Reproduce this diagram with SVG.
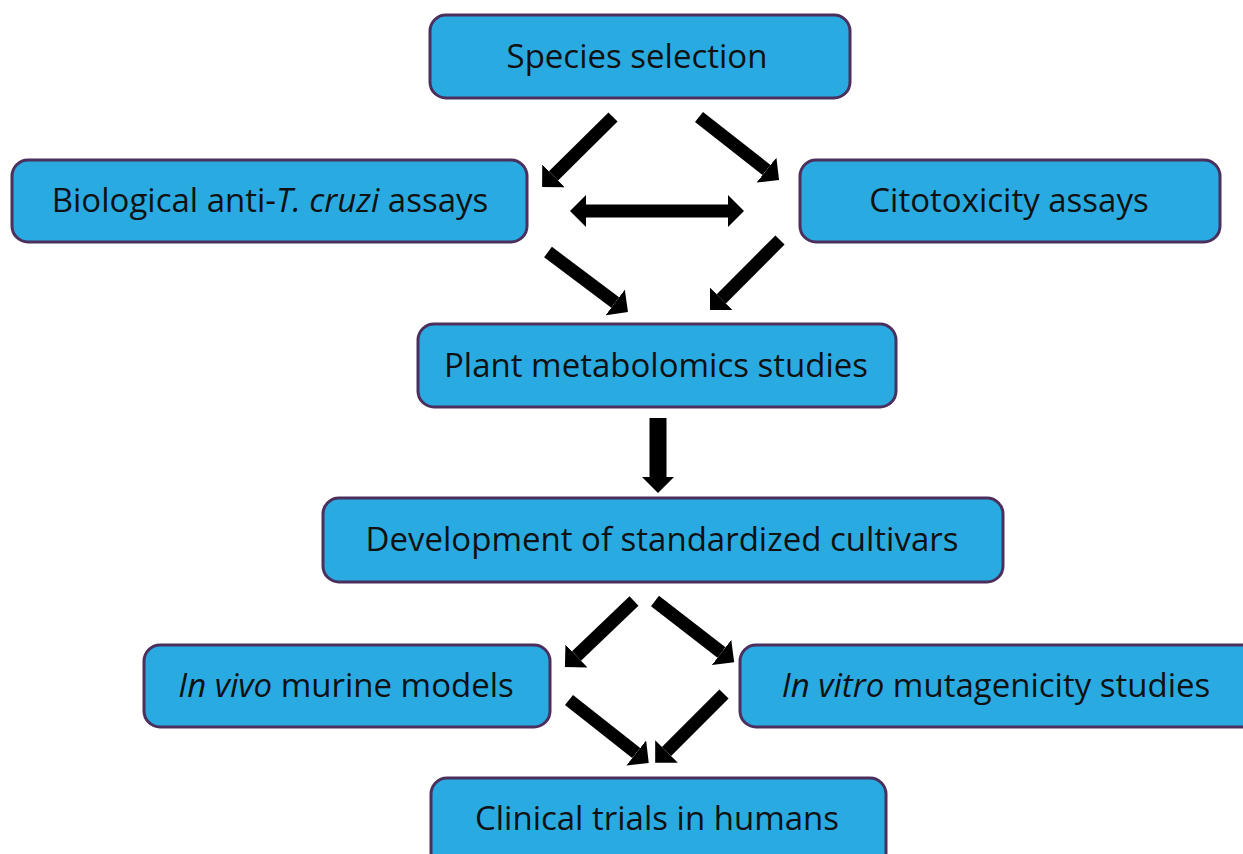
<svg xmlns="http://www.w3.org/2000/svg" width="1243" height="854" viewBox="0 0 1243 854">
<style>
.box{fill:#29ABE2;stroke:#4B2F5C;stroke-width:3}
.t{font-family:"Open Sans","Liberation Sans",sans-serif;font-size:33px;fill:#111;text-anchor:middle}
.i{font-style:italic}
.a{stroke:#000;stroke-width:13;fill:none;marker-end:url(#h)}
</style>
<defs>
<marker id="h" markerUnits="userSpaceOnUse" viewBox="0 0 16 32" markerWidth="16" markerHeight="32" refX="0" refY="16" orient="auto-start-reverse">
<path d="M0,0 L16,16 L0,32 z" fill="#000"/>
</marker>
</defs>
<rect width="1243" height="854" fill="#fff"/>
<g id="connectors">
<line class="a" x1="613" y1="117" x2="553.5" y2="175.8"/>
<line class="a" x1="699" y1="117" x2="766.5" y2="170"/>
<line class="a" x1="586" y1="211" x2="728" y2="211" style="marker-start:url(#h)"/>
<line class="a" x1="548" y1="252" x2="615.2" y2="302.5"/>
<line class="a" x1="780" y1="240" x2="721.3" y2="298.8"/>
<line class="a" x1="658" y1="418" x2="658" y2="477" style="stroke-width:17"/>
<line class="a" x1="634" y1="601" x2="576.5" y2="656"/>
<line class="a" x1="655" y1="601" x2="721.5" y2="652.5"/>
<line class="a" x1="569" y1="700" x2="636.2" y2="753"/>
<line class="a" x1="724" y1="694" x2="666.5" y2="751.5"/>
</g>
<g id="n1"><rect class="box" x="430" y="15" width="420" height="83" rx="16"/><text class="t" x="637" y="68">Species selection</text></g>
<g id="n2"><rect class="box" x="12" y="160" width="515" height="82" rx="16"/><text class="t" x="270" y="212">Biological anti-<tspan class="i">T. cruzi</tspan> assays</text></g>
<g id="n3"><rect class="box" x="800" y="160" width="420" height="82" rx="16"/><text class="t" x="1009" y="212">Citotoxicity assays</text></g>
<g id="n4"><rect class="box" x="418" y="324" width="478" height="83" rx="16"/><text class="t" x="656" y="377">Plant metabolomics studies</text></g>
<g id="n5"><rect class="box" x="323" y="498" width="680" height="84" rx="16"/><text class="t" x="662" y="551">Development of standardized cultivars</text></g>
<g id="n6"><rect class="box" x="144" y="645" width="406" height="82" rx="16"/><text class="t" x="346" y="697"><tspan class="i">In vivo</tspan> murine models</text></g>
<g id="n7"><rect class="box" x="740" y="645" width="520" height="82" rx="16"/><text class="t" x="996" y="697"><tspan class="i">In vitro</tspan> mutagenicity studies</text></g>
<g id="n8"><rect class="box" x="431" y="778" width="455" height="100" rx="16"/><text class="t" x="657" y="830">Clinical trials in humans</text></g>
</svg>
